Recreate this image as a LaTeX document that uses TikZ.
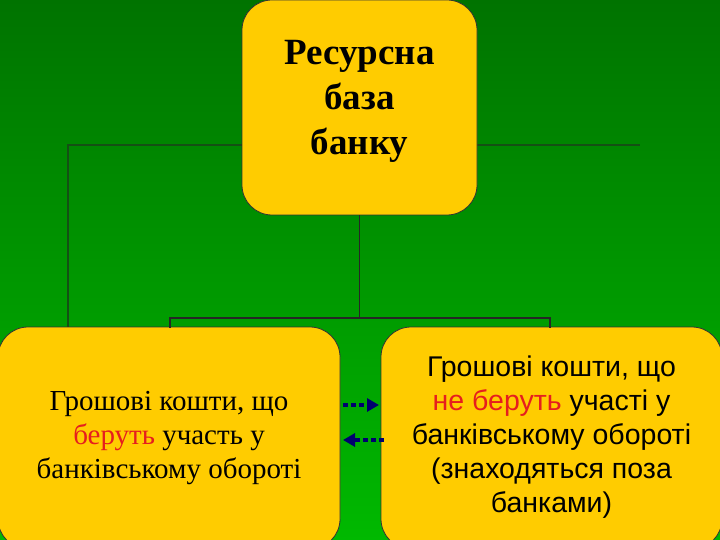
\documentclass[tikz,border=0pt]{standalone}
\usepackage{fontspec}
\setmainfont{Liberation Serif}
\newfontfamily\sansf{Liberation Sans}
\usetikzlibrary{arrows.meta}
\definecolor{boxy}{RGB}{255,204,0}
\definecolor{topg}{RGB}{0,115,0}
\definecolor{botg}{RGB}{0,185,0}
\definecolor{lineg}{RGB}{20,80,20}
\definecolor{navy}{RGB}{0,0,110}
\definecolor{redw}{RGB}{230,30,30}
\tikzset{
 box/.style={draw=black!80, fill=boxy, rounded corners=30pt, line width=0.8pt, align=center, inner sep=0pt},
 conn/.style={draw=black!85, line width=1.5pt},
 darr/.style={navy, line width=3.5pt, dash pattern=on 5pt off 3pt, -{Triangle[length=12pt,width=13pt]}}
}
\begin{document}
\begin{tikzpicture}[x=1pt,y=-1pt]
\useasboundingbox (0,0) rectangle (720,540);
\shade[top color=topg, bottom color=botg] (0,0) rectangle (720,540);
\draw[lineg, line width=2.5pt] (68,330) -- (68,145) -- (640,145);
\node[box, minimum width=235pt, minimum height=215pt, text depth=20pt, font=\bfseries\fontsize{37}{45}\selectfont] (top) at (359.5,107.5) {Ресурсна\\база\\банку};
\node[box, minimum width=342pt, minimum height=222pt, font=\fontsize{29}{34}\selectfont] (left) at (169,438) {Грошові кошти, що\\\textcolor{redw}{беруть} участь у\\банківському обороті};
\node[box, minimum width=341pt, minimum height=222pt, text depth=8pt, font=\sansf\fontsize{28.5}{34}\selectfont] (right) at (551.5,438) {Грошові кошти, що\\\textcolor{redw}{не беруть} участі у\\банківському обороті\\(знаходяться поза\\банками)};
\coordinate (mid) at (359.5,318);
\draw[conn] (top.south) -- (mid);
\draw[conn] (170,328) -- (170,318) -- (550,318) -- (550,328);
\coordinate (a1) at (343,405); \coordinate (a2) at (379,405);
\coordinate (b1) at (384,440); \coordinate (b2) at (343,440);
\draw[darr] (a1) -- (a2);
\draw[darr] (b1) -- (b2);
\end{tikzpicture}
\end{document}
